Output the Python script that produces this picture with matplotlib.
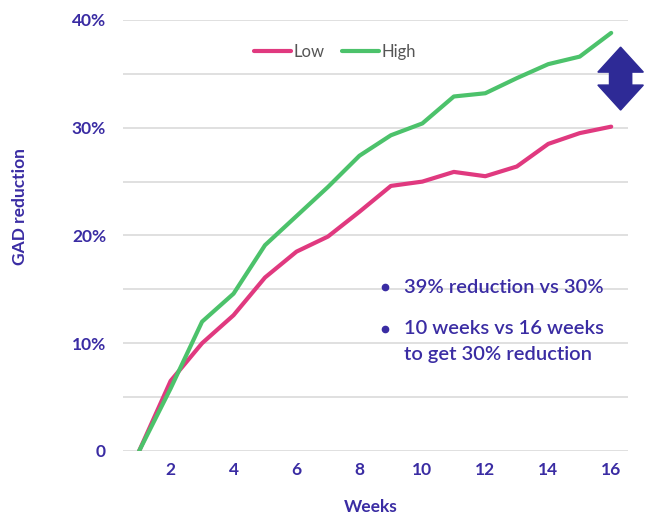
import matplotlib.pyplot as plt
from matplotlib.patches import Polygon

weeks = list(range(1, 17))
low = [0, 6.5, 10.0, 12.6, 16.1, 18.5, 19.9, 22.2, 24.6, 25.0, 25.9, 25.5, 26.4, 28.5, 29.5, 30.1]
high = [0, 5.8, 12.0, 14.6, 19.1, 21.8, 24.5, 27.4, 29.3, 30.4, 32.9, 33.2, 34.6, 35.9, 36.6, 38.8]

xticks = [2, 4, 6, 8, 10, 12, 14, 16]
yticks = [0, 10, 20, 30, 40]
ytick_labels = ["0", "10%", "20%", "30%", "40%"]
notes = ["39% reduction vs 30%", "10 weeks vs 16 weeks\nto get 30% reduction"]

navy = "#3a2ca3"
plt.rcParams['font.family'] = ['Lato', 'DejaVu Sans']

fig = plt.figure(figsize=(6.53, 5.23), dpi=100)
ax = fig.add_axes([0.188, 0.1377, 0.774, 0.8241])

ax.plot(weeks, low, color="#e0397f", lw=3, label="Low", solid_capstyle="round", zorder=3)
ax.plot(weeks, high, color="#4cc26b", lw=3, label="High", solid_capstyle="round", zorder=3)

ax.set_xlim(0.48, 16.54)
ax.set_ylim(0, 40)
ax.set_yticks(yticks)
ax.set_yticklabels(ytick_labels)
ax.set_yticks(range(0, 41, 5), minor=True)
ax.set_xticks(xticks)
ax.grid(axis="y", which="both", color="#dadada", lw=1.2, zorder=0)
ax.set_axisbelow(True)
for s in ax.spines.values():
    s.set_visible(False)
ax.tick_params(which="both", length=0)
ax.tick_params(axis="y", pad=12, labelsize=12.5, labelcolor=navy)
ax.tick_params(axis="x", pad=8, labelsize=12.5, labelcolor=navy)
for lab in ax.get_xticklabels() + ax.get_yticklabels():
    lab.set_fontweight("bold")

fig.text(0.567, 0.015, "Weeks", color=navy, fontsize=12.5, fontweight="bold", ha="center", va="bottom")
fig.text(0.03, 0.605, "GAD reduction", color=navy, fontsize=12.5, fontweight="bold",
         rotation=90, ha="center", va="center")

leg = ax.legend(loc="upper center", bbox_to_anchor=(0.42, 0.98), ncol=2, frameon=False,
                handlelength=2.2, handletextpad=0.15, columnspacing=1.1, fontsize=12)
for t in leg.get_texts():
    t.set_color("#555555")

# notes with bullets
ax.plot([0.519, 0.519], [0.380, 0.283], "o", color=navy, ms=4.5, transform=ax.transAxes, zorder=4)
ax.text(0.557, 0.380, notes[0], transform=ax.transAxes, color=navy, fontsize=14.5, va="center", ha="left",
        fontweight="semibold")
ax.text(0.557, 0.305, notes[1], transform=ax.transAxes, color=navy, fontsize=14.5, va="top", ha="left",
        linespacing=1.65, fontweight="semibold")

# double arrow
cx, w, sw = 0.985, 0.045, 0.044
top, bot, hh = 0.937, 0.791, 0.058
pts = [(cx, top), (cx + w, top - hh), (cx + sw / 2, top - hh), (cx + sw / 2, bot + hh),
       (cx + w, bot + hh), (cx, bot), (cx - w, bot + hh), (cx - sw / 2, bot + hh),
       (cx - sw / 2, top - hh), (cx - w, top - hh)]
ax.add_patch(Polygon(pts, closed=True, transform=ax.transAxes, color="#2e2a96", clip_on=False, zorder=4))

fig.savefig("out.png", dpi=100)
